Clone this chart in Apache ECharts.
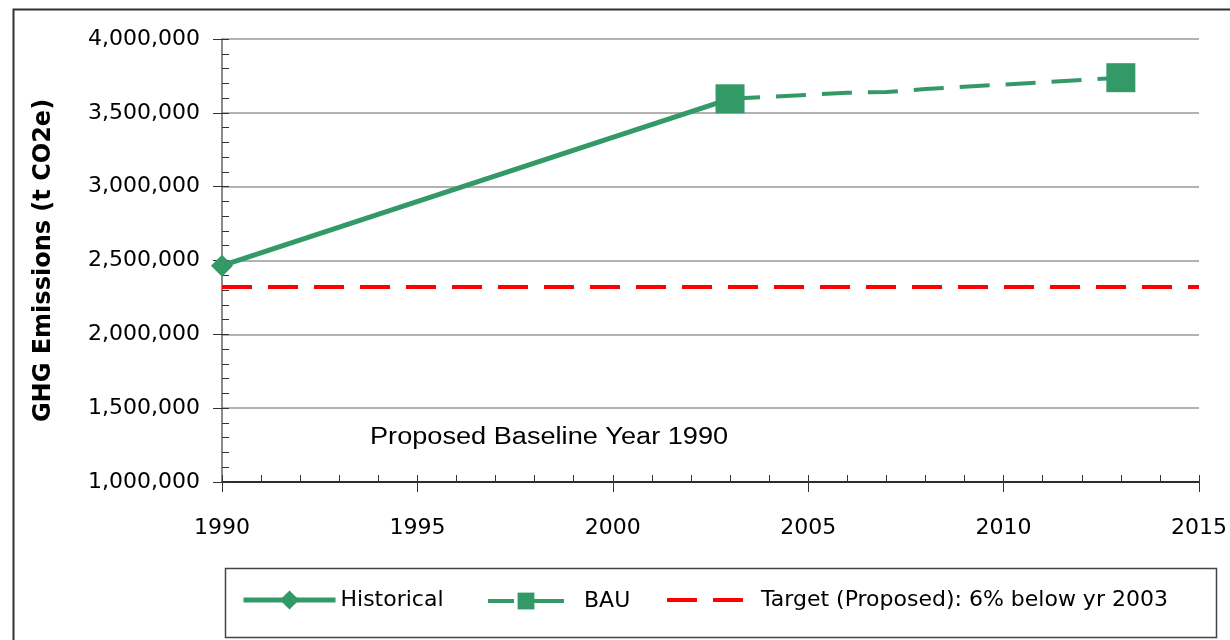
<!DOCTYPE html>
<html>
<head>
<meta charset="utf-8">
<script src="https://cdn.jsdelivr.net/npm/echarts@6/dist/echarts.min.js"></script>
<style>
  html, body { margin: 0; padding: 0; background: #fff; }
  #chart { width: 1230px; height: 640px; }
</style>
</head>
<body>
<div id="chart"></div>
<script>
// ── data ─────────────────────────────────────────────
const historicalYears  = [1990, 2003]
const historicalValues = [2465000, 3595000]

const bauYears  = [2003, 2006, 2007, 2008, 2013]
const bauValues = [3595000, 3636000, 3641000, 3661000, 3738000]
const bauMarked = [true, false, false, false, true]

const targetYears  = [1990, 2015]
const targetValues = [2321000, 2321000]

const seriesNames = ['Historical', 'BAU', 'Target (Proposed): 6% below yr 2003']
const yAxisTitle  = 'GHG Emissions (t CO2e)'
const noteText    = 'Proposed Baseline Year 1990'

const GREEN = '#339966'
const RED   = '#ff0000'
const FONT  = 'DejaVu Sans'

const chart = echarts.init(document.getElementById('chart'), null, { renderer: 'canvas' })

const xBase = { type: 'value', min: 1990, max: 2015, interval: 5, gridIndex: 0 }
const yBase = { type: 'value', min: 1000000, max: 4000000, interval: 500000, gridIndex: 0 }

const legendText = { fontFamily: FONT, fontSize: 22, color: '#000' }

chart.setOption({
  animation: false,
  backgroundColor: '#fff',
  grid: { left: 222, right: 31, top: 39, bottom: 158 },
  graphic: [
    // outer chart border
    { type: 'rect', left: 11, top: 7, shape: { width: 1240, height: 660 },
      style: { fill: 'none', stroke: '#333', lineWidth: 2 }, silent: true },
    // legend box
    { type: 'rect', left: 223, top: 566, shape: { width: 991, height: 69 },
      style: { fill: 'none', stroke: '#444', lineWidth: 1.5 }, silent: true },
    { type: 'text', x: 370, y: 426, scaleX: 1.18,
      style: { text: noteText, font: '23px "Liberation Sans", Arial, sans-serif', fill: '#000' } },
  ],
  legend: [
    { left: 241, top: 589, itemWidth: 92, itemHeight: 24, data: [seriesNames[0]],
      lineStyle: { color: GREEN, width: 5, type: 'solid' },
      textStyle: legendText, padding: 0 },
    { left: 486, top: 590, itemWidth: 76, itemHeight: 21, data: [seriesNames[1]],
      lineStyle: { color: GREEN, width: 4, type: [26, 4, 46, 10] },
      textStyle: { ...legendText, padding: [0, 0, 0, 15] }, padding: 0 },
    { left: 665, top: 589, itemWidth: 76, itemHeight: 22, data: [seriesNames[2]],
      lineStyle: { color: RED, width: 4, type: [30, 16] },
      itemStyle: { opacity: 0 },
      textStyle: { ...legendText, padding: [0, 0, 0, 13] }, padding: 0 },
  ],
  xAxis: [
    {
      ...xBase,
      axisLine: { lineStyle: { color: '#000', width: 1.5 } },
      axisTick: { inside: true, length: 7, lineStyle: { color: '#333' } },
      minorTick: { show: true, splitNumber: 5, length: 7, lineStyle: { color: '#333' } },
      axisLabel: { fontFamily: FONT, fontSize: 22, color: '#000', margin: 35, formatter: v => String(v) },
      splitLine: { show: false },
    },
    {
      ...xBase,
      position: 'bottom',
      axisLine: { show: false },
      axisTick: { inside: false, length: 10, lineStyle: { color: '#333' } },
      axisLabel: { show: false },
      splitLine: { show: false },
    },
  ],
  yAxis: [
    {
      ...yBase,
      name: yAxisTitle,
      nameLocation: 'middle',
      nameGap: 166,
      nameTextStyle: { fontFamily: FONT, fontSize: 24, fontWeight: 'bold', color: '#000' },
      axisLine: { show: true, lineStyle: { color: '#666', width: 1.5 } },
      axisTick: { show: true, inside: true, length: 7, lineStyle: { color: '#333' } },
      minorTick: { show: true, splitNumber: 5, length: 7, lineStyle: { color: '#333' } },
      axisLabel: {
        fontFamily: FONT, fontSize: 22, color: '#000', margin: 22,
        formatter: v => v.toLocaleString('en-US'),
      },
      splitLine: { show: true, lineStyle: { color: '#999', width: 1.5 } },
    },
    {
      ...yBase,
      position: 'left',
      axisLine: { show: false },
      axisTick: { show: true, inside: false, length: 9, lineStyle: { color: '#333' } },
      axisLabel: { show: false },
      splitLine: { show: false },
    },
  ],
  series: [
    {
      name: seriesNames[2],
      type: 'line',
      data: targetYears.map((x, i) => [x, targetValues[i]]),
      symbol: 'none',
      color: RED,
      lineStyle: { color: RED, width: 4, type: [30, 16] },
      clip: false,
      z: 3,
    },
    {
      name: seriesNames[0],
      type: 'line',
      data: historicalYears.map((x, i) => [x, historicalValues[i]]),
      symbol: 'diamond',
      symbolSize: 22,
      showAllSymbol: true,
      color: GREEN,
      itemStyle: { color: GREEN },
      lineStyle: { color: GREEN, width: 5 },
      clip: false,
      z: 4,
    },
    {
      name: seriesNames[1],
      type: 'line',
      data: bauYears.map((x, i) => ({
        value: [x, bauValues[i]],
        symbol: bauMarked[i] ? 'rect' : 'none',
      })),
      symbol: 'rect',
      symbolSize: 29,
      showAllSymbol: true,
      color: GREEN,
      itemStyle: { color: GREEN },
      lineStyle: { color: GREEN, width: 4, type: [30, 16] },
      clip: false,
      z: 5,
    },
  ],
})
</script>
</body>
</html>
